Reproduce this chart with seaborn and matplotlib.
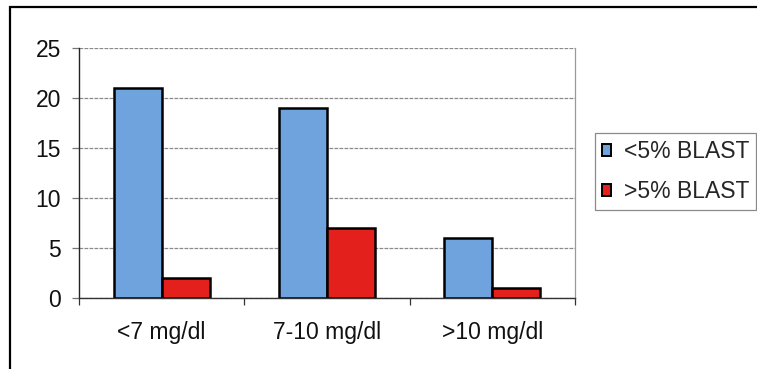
import matplotlib
matplotlib.use("Agg")
import matplotlib.pyplot as plt
from matplotlib.patches import Rectangle
from matplotlib.ticker import FixedLocator
import pandas as pd
import seaborn as sns

# Hemoglobin groups and patient counts per blast percentage
categories = ["<7 mg/dl", "7-10 mg/dl", ">10 mg/dl"]
series_names = ["<5% BLAST", ">5% BLAST"]
low_blast = [21, 19, 6]
high_blast = [2, 7, 1]
y_ticks = [0, 5, 10, 15, 20, 25]
colors = ["#6FA3DD", "#E4201C"]

df = pd.DataFrame({
    "group": categories * 2,
    "series": [series_names[0]] * len(categories) + [series_names[1]] * len(categories),
    "count": low_blast + high_blast,
})

sns.set_theme(style="white")
plt.rcParams["font.family"] = ["Liberation Sans", "DejaVu Sans"]

fig = plt.figure(figsize=(7.57, 3.69), dpi=100)
ax = fig.add_axes([79 / 757, 1 - 297.7 / 369, (575 - 79) / 757, (297.7 - 47.7) / 369])

sns.barplot(data=df, x="group", y="count", hue="series", order=categories,
            hue_order=series_names, palette=colors, width=0.58, saturation=1,
            edgecolor="black", linewidth=1.8, ax=ax, legend=True)

ax.set_xlim(-0.5, 2.5)
ax.set_ylim(0, 25)
ax.set_yticks(y_ticks)
ax.set_xlabel("")
ax.set_ylabel("")

# gridlines and frame
ax.yaxis.grid(True, color="#8a8a8a", linewidth=0.9, linestyle=(0, (3, 1)))
ax.set_axisbelow(True)
ax.spines["left"].set_color("#222222")
ax.spines["left"].set_linewidth(1.0)
ax.spines["bottom"].set_color("#333333")
ax.spines["bottom"].set_linewidth(1.0)
ax.spines["right"].set_color("#9a9a9a")
ax.spines["right"].set_linewidth(0.9)
ax.spines["top"].set_visible(False)
ax.set_facecolor("white")

ax.tick_params(axis="y", length=5, width=0.9, color="#777777", pad=8,
               labelsize=16.5, labelcolor="#111111", left=True)
ax.tick_params(axis="x", which="major", length=0, pad=17, labelsize=16.5,
               labelcolor="#111111")
ax.xaxis.set_minor_locator(FixedLocator([-0.5, 0.5, 1.5, 2.5]))
ax.tick_params(axis="x", which="minor", length=5, width=0.9, color="#333333",
               bottom=True, direction="out")

# legend
handles, labels = ax.get_legend_handles_labels()
ax.legend(handles, labels, loc="upper left",
          bbox_to_anchor=(595 / 757, 1 - 133 / 369),
          bbox_transform=fig.transFigure, fontsize=16.5, frameon=True,
          fancybox=False, edgecolor="#8a8a8a", framealpha=1,
          handlelength=0.4, handleheight=0.45, handletextpad=0.55,
          labelspacing=0.75, borderpad=0.3, borderaxespad=0)
leg = ax.get_legend()
leg.get_frame().set_linewidth(0.9)
for h in leg.legend_handles:
    h.set_edgecolor("black")
    h.set_linewidth(1.4)

# outer border of the chart area
fig.patches.append(Rectangle((10 / 757, -0.1), 1.2, 1 - 7 / 369 + 0.1,
                             transform=fig.transFigure, fill=False,
                             edgecolor="black", linewidth=1.6))

fig.savefig("out.png", dpi=100, facecolor="white")
